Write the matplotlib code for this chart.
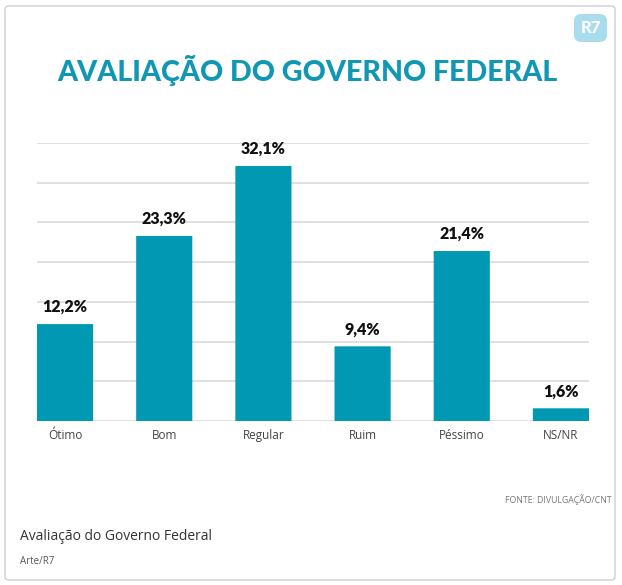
import matplotlib
matplotlib.use('Agg')
import matplotlib.pyplot as plt
from matplotlib.patches import FancyBboxPatch

categories = ['Ótimo', 'Bom', 'Regular', 'Ruim', 'Péssimo', 'NS/NR']
values = [12.2, 23.3, 32.1, 9.4, 21.4, 1.6]
value_labels = ['12,2%', '23,3%', '32,1%', '9,4%', '21,4%', '1,6%']

TEAL = '#0098b3'
W, H = 622, 585

fig = plt.figure(figsize=(W / 100, H / 100), dpi=100)
fig.patch.set_facecolor('white')

# card border
card = FancyBboxPatch((5 / W, 5 / H), 610 / W, 574 / H,
                      boxstyle='round,pad=0,rounding_size=0.006',
                      transform=fig.transFigure, facecolor='none',
                      edgecolor='#cfcfcf', lw=1.0, zorder=-1)
fig.patches.append(card)

ax = fig.add_axes([37 / W, 164 / H, 552 / W, 278 / H])
ax.set_facecolor('none')
x = list(range(len(categories)))
bars = ax.bar(x, values, width=0.566, color=TEAL, zorder=3)
# rounded tops
for b in bars:
    b.set_visible(False)
    p = FancyBboxPatch((b.get_x(), 0), b.get_width(), b.get_height(),
                       boxstyle='round,pad=0,rounding_size=0.04',
                       mutation_aspect=1 / 12.5, facecolor=TEAL,
                       edgecolor='none', zorder=3)
    ax.add_patch(p)
for xi, v, lab in zip(x, values, value_labels):
    ax.annotate(lab, (xi, v), xytext=(0, 6.5), textcoords='offset points',
                ha='center', va='bottom', fontsize=11.5, fontweight='heavy',
                family='Lato', color='#111111')

ax.set_xlim(-0.283, 5.283)
ax.set_ylim(0, 35)
ax.set_yticks(range(0, 36, 5))
ax.yaxis.grid(True, color='#dddddd', lw=1.3, zorder=0)
ax.set_axisbelow(True)
ax.tick_params(axis='y', left=False, labelleft=False)
ax.tick_params(axis='x', length=0, pad=6)
ax.set_xticks(x)
ax.set_xticklabels(categories, fontsize=8.5, color='#444444', family='Open Sans')
for s in ax.spines.values():
    s.set_visible(False)

fig.text(307 / W, 1 - 70 / H, 'AVALIAÇÃO DO GOVERNO FEDERAL', ha='center',
         va='center', fontsize=20.6, fontweight='black', family='Lato',
         color='#1097b4')

# R7 logo
logo = FancyBboxPatch((574 / W, 1 - 42 / H), 33 / W, 28 / H,
                      boxstyle='round,pad=0,rounding_size=0.012',
                      transform=fig.transFigure, facecolor='#a9dcec',
                      edgecolor='none')
fig.patches.append(logo)
fig.text(590.5 / W, 1 - 28 / H, 'R7', ha='center', va='center', fontsize=12,
         fontweight='black', family='Lato', color='white')

fig.text(612 / W, 1 - 500 / H, 'FONTE: DIVULGAÇÃO/CNT', ha='right',
         va='center', fontsize=6.3, color='#777777', family='Open Sans')
fig.text(20 / W, 1 - 536 / H, 'Avaliação do Governo Federal', ha='left',
         va='center', fontsize=10, color='#333333', family='Open Sans')
fig.text(20 / W, 1 - 561 / H, 'Arte/R7', ha='left', va='center',
         fontsize=7, color='#555555', family='Open Sans')

fig.savefig('out.png', dpi=100)
